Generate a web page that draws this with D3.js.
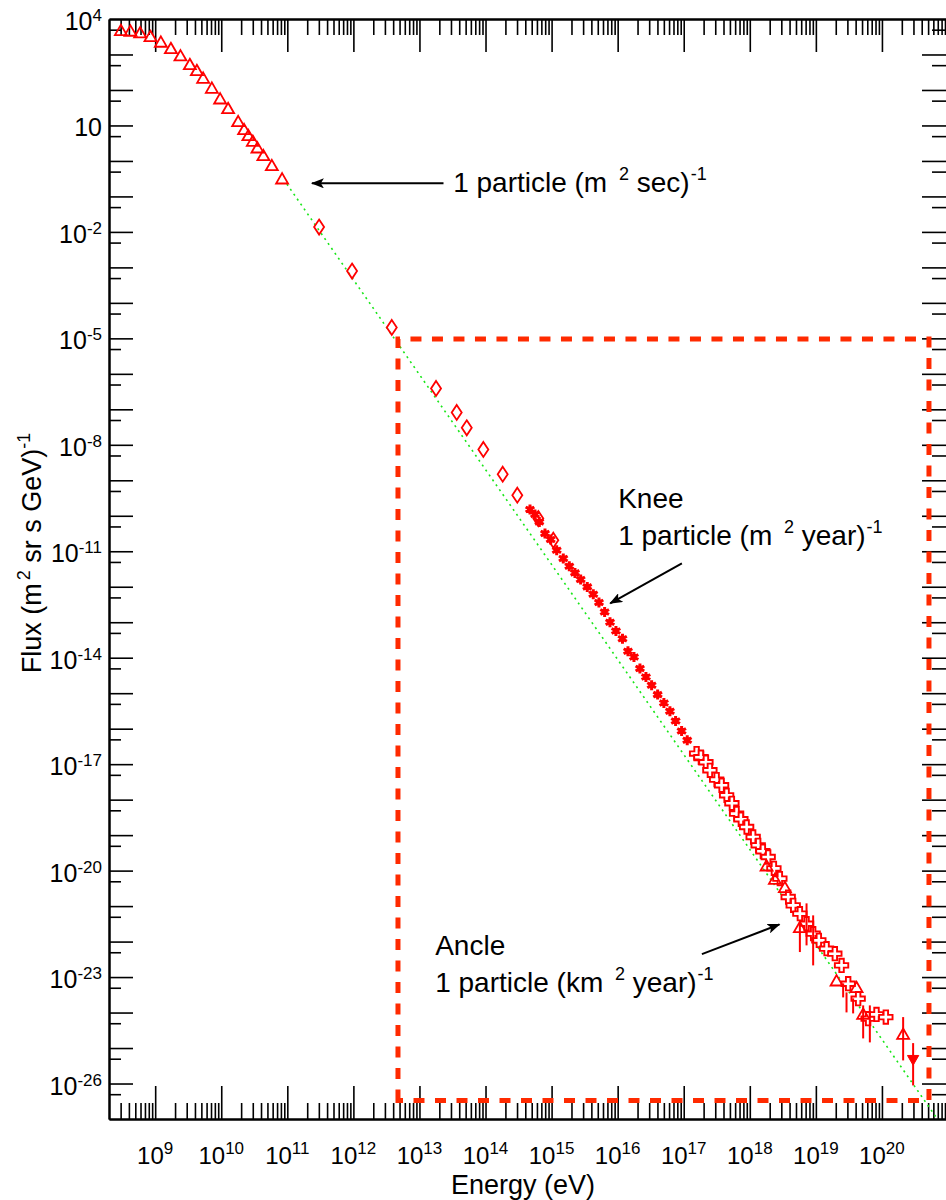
<!DOCTYPE html>
<html>
<head>
<meta charset="utf-8">
<script src="https://cdn.jsdelivr.net/npm/d3@7"></script>
<style>
  body { margin: 0; background: #fff; }
  svg text { font-family: "Liberation Sans", Arial, Helvetica, sans-serif; fill: #000; }
</style>
</head>
<body>
<div id="chart"></div>
<script>
// =======================
// Cosmic ray energy spectrum
// values are log10(E / eV) and log10(flux)
// =======================

// open triangles
const triLogE = [8.481, 8.626, 8.773, 8.929, 9.086, 9.238, 9.383, 9.525, 9.631, 9.726, 9.858,
  9.983, 10.104, 10.256, 10.346, 10.411, 10.478, 10.548, 10.638, 10.766, 10.921,
  18.254, 18.380, 18.531, 18.758, 19.313, 19.616, 19.716, 20.321];
const triLogF = [3.642, 3.625, 3.577, 3.473, 3.315, 3.134, 2.929, 2.683, 2.514, 2.300, 2.018,
  1.716, 1.443, 1.076, 0.851, 0.682, 0.524, 0.335, 0.118, -0.164, -0.539,
  -19.899, -20.274, -20.508, -21.636, -23.141, -23.327, -24.080, -24.644];

// open diamonds
const diaLogE = [11.481, 11.980, 12.581, 13.251, 13.564, 13.716, 13.967, 14.260, 14.481, 14.799, 15.026];
const diaLogF = [-1.864, -3.105, -4.692, -6.412, -7.088, -7.522, -8.131, -8.828, -9.420, -10.077, -10.688];

// filled stars
const starLogE = [14.673, 14.749, 14.814, 14.900, 14.986, 15.077, 15.177, 15.268, 15.354, 15.440,
  15.540, 15.631, 15.717, 15.803, 15.884, 15.974, 16.073, 16.156, 16.247, 16.337,
  16.428, 16.514, 16.605, 16.700, 16.791, 16.877, 16.968, 17.053];
const starLogF = [-9.823, -9.964, -10.173, -10.500, -10.669, -10.970, -11.204, -11.422, -11.610, -11.797,
  -12.005, -12.211, -12.445, -12.710, -13.000, -13.246, -13.465, -13.818, -13.979, -14.306,
  -14.542, -14.776, -15.039, -15.275, -15.510, -15.783, -16.065, -16.327];

// open crosses
const crossLogE = [17.195, 17.260, 17.336, 17.396, 17.498, 17.573, 17.649, 17.729, 17.800, 17.865,
  17.952, 18.051, 18.127, 18.198, 18.278, 18.365, 18.455, 18.581, 18.657, 18.758,
  18.859, 18.959, 19.045, 19.162, 19.287, 19.389, 19.489, 19.640, 19.791, 19.918, 20.059];
const crossLogF = [-16.702, -16.806, -16.947, -17.173, -17.435, -17.596, -17.878, -18.103, -18.394, -18.554,
  -18.771, -19.053, -19.287, -19.456, -19.617, -19.936, -20.226, -20.745, -20.979, -21.213,
  -21.495, -21.777, -21.966, -22.200, -22.341, -22.671, -23.187, -23.609, -24.173, -24.052, -24.128];

// filled down triangle (upper limit)
const limLogE = [20.472];
const limLogF = [-25.301];

// error bars
const errLogE  = [18.758, 18.859, 18.959, 19.413, 19.464, 19.564, 19.716, 19.817, 20.321, 20.472];
const errLogLo = [-22.295, -22.107, -22.671, -23.573, -23.996, -24.024, -24.729, -24.841, -25.349, -26.054];
const errLogHi = [-21.449, -20.923, -21.261, -23.178, -23.432, -23.601, -23.798, -23.798, -24.128, -24.861];

// dotted power-law guide line (end points)
const fitLogE = [10.993, 20.839];
const fitLogF = [-0.651, -27];

// dashed box
const boxLogE = [12.675, 20.712];
const boxLogF = [-26.477, -5.016];

// tick labels (exponents)
const xLabelExp = [9, 10, 11, 12, 13, 14, 15, 16, 17, 18, 19, 20];
const yLabelExp = [4, 1, -2, -5, -8, -11, -14, -17, -20, -23, -26];

// annotations: arrow tail/tip and text anchor; odd text pieces are superscripts
const arrows = [
  { e0: 13.364, f0: -0.631, e1: 11.372, f1: -0.631 },
  { e0: 16.972, f0: -11.341, e1: 15.887, f1: -12.469 },
  { e0: 17.275, f0: -22.353, e1: 18.449, f1: -21.516 }
];
const notes = [
  { e: 13.51, f: -0.884, lines: [["1 particle (m ", "2", " sec)", "-1"]] },
  { e: 16.008, f: -9.782, lines: [["Knee"], ["1 particle (m ", "2", " year)", "-1"]] },
  { e: 13.238, f: -22.381, lines: [["Ancle"], ["1 particle (km ", "2", " year)", "-1"]] }
];

const width = 946, height = 1200;
const margin = { top: 19, left: 109 };
const w = 839, h = 1100;
const p10 = v => Math.pow(10, v);

const svg = d3.select("#chart")
  .append("svg")
    .attr("width", width)
    .attr("height", height)
  .append("g")
    .attr("transform", `translate(${margin.left},${margin.top})`);

const x = d3.scaleLog().domain([2e8, 1e21]).range([0, w]);
const y = d3.scaleLog().domain([1e-27, 1e4]).range([h, 0]);

// tick positions
const xMajor = d3.range(9, 21).map(p10);
const xMinor = [];
d3.range(8, 21).forEach(e => d3.range(2, 10).forEach(m => {
  const v = m * p10(e);
  if (v > 2.01e8 && v < 1e21) xMinor.push(v);
}));
const yMajor = d3.range(-26, 4).map(p10);
const yMinor = d3.range(-27, 4).map(e => 5 * p10(e));

function addAxis(gen, scale, vals, size, tr) {
  const g = svg.append("g")
    .attr("transform", tr)
    .call(gen(scale).tickValues(vals).tickSize(size).tickSizeOuter(0).tickFormat(""));
  g.select(".domain").attr("stroke-width", 2).attr("stroke", "#000");
  g.selectAll(".tick line").attr("stroke-width", 1.6).attr("stroke", "#000");
}

addAxis(d3.axisBottom, x, xMajor, -33, `translate(0,${h})`);
addAxis(d3.axisBottom, x, xMinor, -16, `translate(0,${h})`);
addAxis(d3.axisTop, x, xMajor, -33, "translate(0,0)");
addAxis(d3.axisTop, x, xMinor, -16, "translate(0,0)");
addAxis(d3.axisLeft, y, yMajor, -24, "translate(0,0)");
addAxis(d3.axisLeft, y, yMinor, -12, "translate(0,0)");
addAxis(d3.axisRight, y, yMajor, -26, `translate(${w},0)`);
addAxis(d3.axisRight, y, yMinor, -16, `translate(${w},0)`);

// tick labels with superscript exponents
svg.append("g").selectAll("text")
  .data(xLabelExp)
  .enter()
  .append("text")
    .attr("x", d => x(p10(d)))
    .attr("y", h + 45)
    .attr("text-anchor", "middle")
    .style("font-size", "24px")
    .each(function(d) {
      const t = d3.select(this);
      t.append("tspan").text("10");
      t.append("tspan").attr("dy", -10).style("font-size", "17px").text(d);
    });

svg.append("g").selectAll("text")
  .data(yLabelExp)
  .enter()
  .append("text")
    .attr("x", -7)
    .attr("y", d => y(p10(d)) + 11)
    .attr("text-anchor", "end")
    .style("font-size", "25px")
    .each(function(d) {
      const t = d3.select(this);
      t.append("tspan").text("10");
      if (d !== 1) t.append("tspan").attr("dy", -9).style("font-size", "17px").text(d);
    });

// axis titles
svg.append("text")
  .attr("x", 414)
  .attr("y", h + 75)
  .attr("text-anchor", "middle")
  .style("font-size", "27px")
  .text("Energy (eV)");

const yTitle = svg.append("text")
  .attr("transform", `translate(${41 - margin.left},${553 - margin.top}) rotate(-90)`)
  .attr("text-anchor", "middle")
  .style("font-size", "27px");
yTitle.append("tspan").text("Flux (m");
yTitle.append("tspan").attr("dy", -11).attr("dx", 3).style("font-size", "18px").text("2");
yTitle.append("tspan").attr("dy", 11).text(" sr s GeV)");
yTitle.append("tspan").attr("dy", -11).style("font-size", "18px").text("-1");

// dotted guide line
svg.append("path")
  .datum(d3.zip(fitLogE, fitLogF))
  .attr("d", d3.line().x(d => x(p10(d[0]))).y(d => y(p10(d[1]))))
  .attr("fill", "none")
  .attr("stroke", "#19e619")
  .attr("stroke-width", 1.6)
  .attr("stroke-dasharray", "2,4");

// dashed box
const bx0 = x(p10(boxLogE[0])), bx1 = x(p10(boxLogE[1]));
const by0 = y(p10(boxLogF[1])), by1 = y(p10(boxLogF[0]));
svg.append("path")
  .attr("d", `M${bx0},${by1}V${by0}H${bx1}V${by1}Z`)
  .attr("fill", "none")
  .attr("stroke", "#ff2a00")
  .attr("stroke-width", 5)
  .attr("stroke-dasharray", "11,10.5");

// markers
const red = "#ff0000";
const pos = d => `translate(${x(p10(d[0]))},${y(p10(d[1]))})`;

svg.append("g").selectAll("path")
  .data(d3.zip(diaLogE, diaLogF))
  .enter()
  .append("path")
    .attr("transform", pos)
    .attr("d", "M0,-7.5L5,0L0,7.5L-5,0Z")
    .attr("fill", "none")
    .attr("stroke", red)
    .attr("stroke-width", 1.8);

const stars = svg.append("g").selectAll("g")
  .data(d3.zip(starLogE, starLogF))
  .enter()
  .append("g")
    .attr("transform", pos);
stars.append("path")
  .attr("d", d3.symbol(d3.symbolAsterisk, 70))
  .attr("stroke", red)
  .attr("stroke-width", 3);
stars.append("path")
  .attr("d", d3.symbol(d3.symbolSquare, 34))
  .attr("fill", red);

svg.append("g").selectAll("path")
  .data(d3.zip(crossLogE, crossLogF))
  .enter()
  .append("path")
    .attr("transform", pos)
    .attr("d", d3.symbol(d3.symbolCross, 100))
    .attr("fill", "#fff")
    .attr("stroke", red)
    .attr("stroke-width", 1.9);

svg.append("g").selectAll("path")
  .data(d3.zip(triLogE, triLogF))
  .enter()
  .append("path")
    .attr("transform", pos)
    .attr("d", d3.symbol(d3.symbolTriangle, 62))
    .attr("fill", "none")
    .attr("stroke", red)
    .attr("stroke-width", 1.8);

svg.append("g").selectAll("line")
  .data(d3.zip(errLogE, errLogLo, errLogHi))
  .enter()
  .append("line")
    .attr("x1", d => x(p10(d[0])))
    .attr("x2", d => x(p10(d[0])))
    .attr("y1", d => y(p10(d[1])))
    .attr("y2", d => y(p10(d[2])))
    .attr("stroke", red)
    .attr("stroke-width", 2);

svg.append("g").selectAll("path")
  .data(d3.zip(limLogE, limLogF))
  .enter()
  .append("path")
    .attr("transform", d => pos(d) + " rotate(180)")
    .attr("d", d3.symbol(d3.symbolTriangle, 55))
    .attr("fill", red)
    .attr("stroke", red)
    .attr("stroke-width", 1);

// arrows
svg.append("defs").append("marker")
  .attr("id", "head")
  .attr("markerUnits", "userSpaceOnUse")
  .attr("markerWidth", 13)
  .attr("markerHeight", 10)
  .attr("refX", 12)
  .attr("refY", 5)
  .attr("orient", "auto")
  .append("path")
    .attr("d", "M0,0L13,5L0,10L3,5Z")
    .attr("fill", "#000");

svg.append("g").selectAll("line")
  .data(arrows)
  .enter()
  .append("line")
    .attr("x1", d => x(p10(d.e0)))
    .attr("y1", d => y(p10(d.f0)))
    .attr("x2", d => x(p10(d.e1)))
    .attr("y2", d => y(p10(d.f1)))
    .attr("stroke", "#000")
    .attr("stroke-width", 2)
    .attr("marker-end", "url(#head)");

// annotation texts
notes.forEach(n => {
  n.lines.forEach((parts, i) => {
    const t = svg.append("text")
      .attr("x", x(p10(n.e)))
      .attr("y", y(p10(n.f)) + i * 37)
      .style("font-size", "28px");
    parts.forEach((s, k) => {
      const sup = k % 2 === 1;
      const sp = t.append("tspan").text(s);
      if (sup) sp.attr("dy", -12).attr("dx", k === 1 ? 4 : 1).style("font-size", "18px");
      else if (k > 0) sp.attr("dy", 12);
    });
  });
});
</script>
</body>
</html>
